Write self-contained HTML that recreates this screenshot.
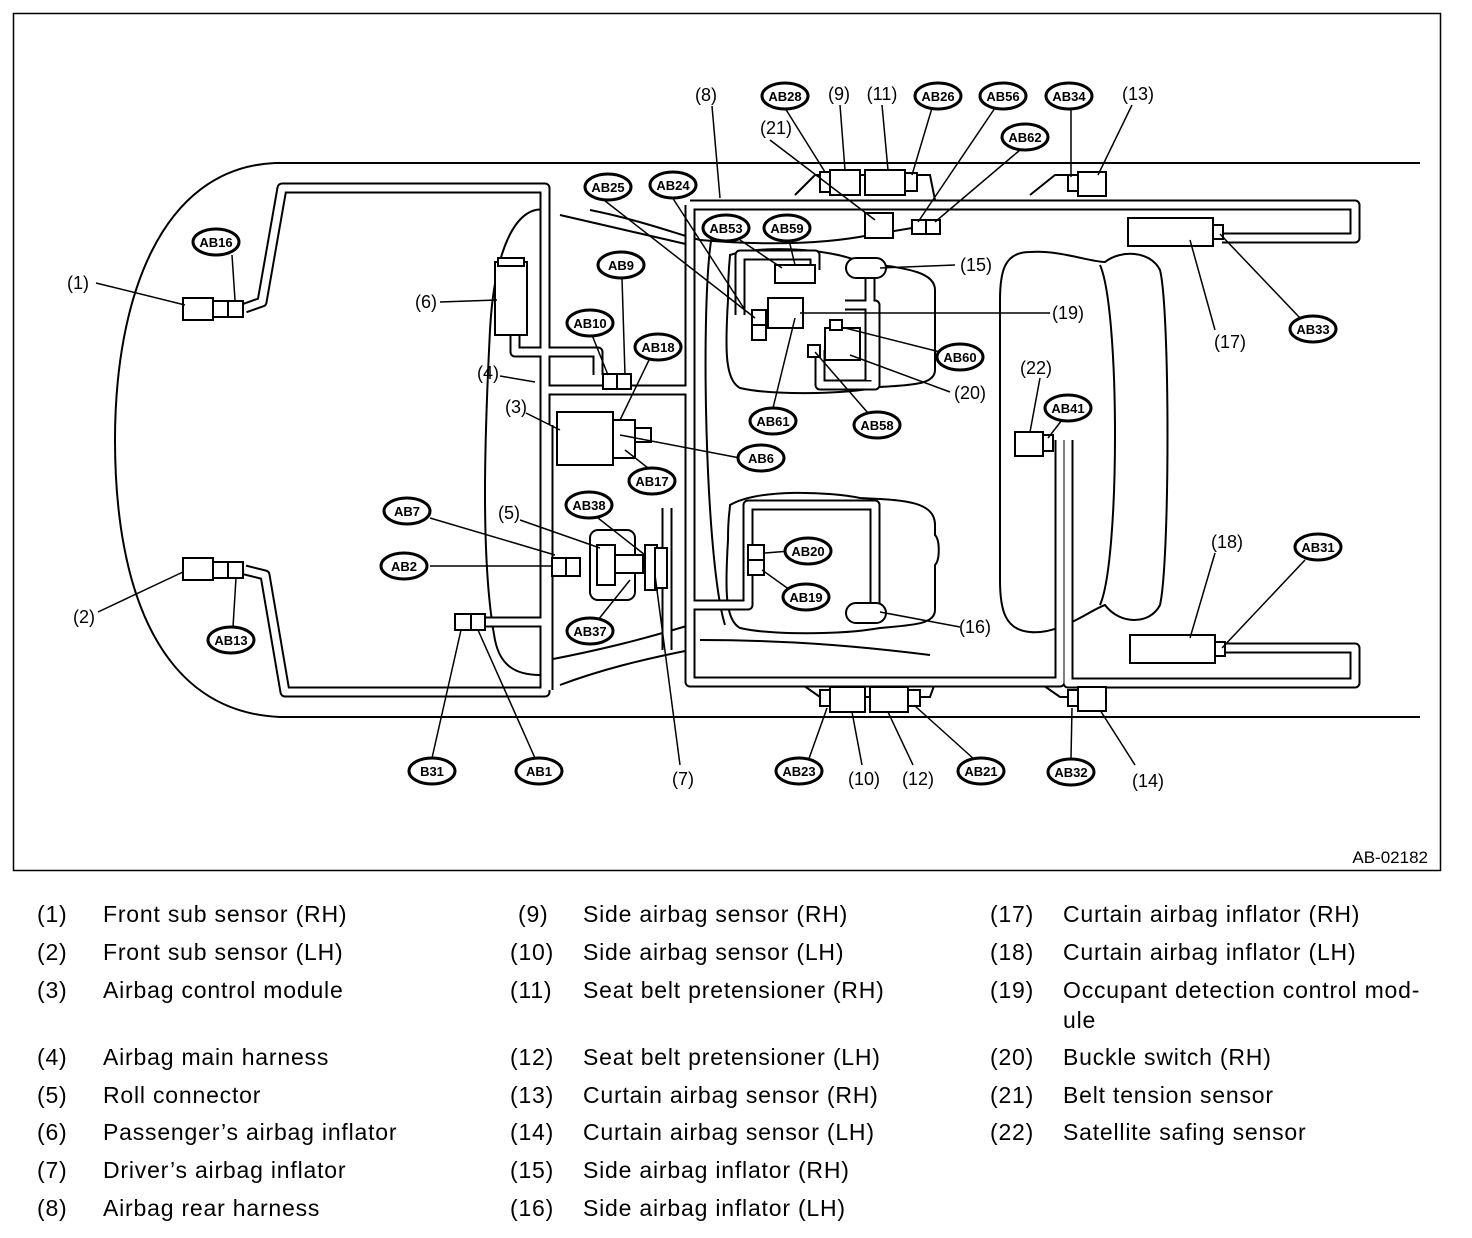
<!DOCTYPE html>
<html><head><meta charset="utf-8"><style>
html,body{margin:0;padding:0;background:#fff;}
body{width:1472px;height:1238px;position:relative;font-family:"Liberation Sans",Arial,sans-serif;}
svg{position:absolute;left:0;top:0;}
.lg{position:absolute;font-size:23px;letter-spacing:0.8px;color:#000;white-space:nowrap;}
</style></head><body>
<svg width="1472" height="1238" viewBox="0 0 1472 1238" font-family="Liberation Sans, Arial, sans-serif">
<rect x="13.5" y="13.5" width="1427" height="857" fill="none" stroke="#000" stroke-width="1.5"/>
<text x="1428" y="863" font-size="17" text-anchor="end">AB-02182</text>
<g fill="none" stroke="#000" stroke-width="2">
<path d="M1420,163 L275,163 C160,168 115,300 115,440 C115,590 160,712 280,717 L1420,717"/>
<path d="M795,195 L815,175 L930,175 L935,200"/>
<path d="M1030,195 L1055,175 L1070,175"/>
<path d="M800,683 L820,697 L930,697 L935,683"/>
<path d="M1040,683 L1060,697 L1075,697"/>
<path d="M545,210 C520,205 495,240 490,330 C485,430 480,560 495,640 C500,665 515,675 540,675"/>
<path d="M560,215 L690,245"/>
<path d="M590,210 C640,220 680,235 700,240"/>
<path d="M700,240 C760,245 820,245 870,235 L930,225"/>
<path d="M560,685 C600,670 640,660 690,650"/>
<path d="M548,660 C600,650 640,640 690,625"/>
<path d="M700,640 C780,640 850,645 930,655"/>
<path d="M730,255 C760,245 830,248 860,262 C900,268 935,270 935,290 L935,370 C935,385 910,385 880,387 C840,395 770,395 740,388 C725,380 725,350 728,300 C728,270 730,258 730,255Z"/>
<path d="M730,505 C760,488 830,492 860,498 C900,500 935,500 935,525 L935,535 C940,540 940,560 935,565 L935,610 C935,625 910,625 880,628 C840,635 770,635 740,628 C725,620 725,590 728,540 C728,515 730,510 730,505Z"/>
<path d="M712,235 C700,300 705,560 725,625"/>
<path d="M1030,252 C1060,250 1090,262 1105,262 C1120,250 1150,250 1160,270 C1170,310 1170,560 1160,605 C1150,625 1120,625 1105,605 C1090,610 1060,635 1030,632 C1005,630 1000,610 1000,580 L1000,300 C1000,270 1005,252 1030,252Z"/>
<path d="M1100,265 C1120,310 1120,560 1100,605"/>
</g>
<g fill="none" stroke-linejoin="round">
<g stroke="#000" stroke-width="11">
<path d="M245,308 L262,302 L282,188 L545,188 L545,692 L285,692 L265,575 L245,570"/>
<path d="M515,335 L515,352 L598,352 L598,375"/>
<path d="M545,380 L545,390 L690,390"/>
<path d="M690,205 L690,682 L1060,682 L1060,440"/>
<path d="M690,205 L1355,205 L1355,238 L1222,238"/>
<path d="M1068,440 L1068,683 L1355,683 L1355,648 L1225,648"/>
<path d="M548,425 L548,690"/>
<path d="M690,605 L748,605 L748,505 L875,505 L875,605"/>
<path d="M740,315 L740,255 L815,255 L815,270"/>
<path d="M845,305 L875,305 L875,385 L820,385 L820,350"/>
<path d="M870,270 L870,380"/>
<path d="M485,622 L545,622"/>
<path d="M667,508 L667,650"/>
</g>
<g stroke="#fff" stroke-width="7">
<path d="M245,308 L262,302 L282,188 L545,188 L545,692 L285,692 L265,575 L245,570"/>
<path d="M515,335 L515,352 L598,352 L598,375"/>
<path d="M545,380 L545,390 L690,390"/>
<path d="M690,205 L690,682 L1060,682 L1060,440"/>
<path d="M690,205 L1355,205 L1355,238 L1222,238"/>
<path d="M1068,440 L1068,683 L1355,683 L1355,648 L1225,648"/>
<path d="M548,425 L548,690"/>
<path d="M690,605 L748,605 L748,505 L875,505 L875,605"/>
<path d="M740,315 L740,255 L815,255 L815,270"/>
<path d="M845,305 L875,305 L875,385 L820,385 L820,350"/>
<path d="M870,270 L870,380"/>
<path d="M485,622 L545,622"/>
<path d="M667,508 L667,650"/>
</g>
</g>
<g fill="#fff" stroke="#000" stroke-width="2">
<rect x="183" y="298" width="30" height="22"/><rect x="213" y="301" width="15" height="16"/><rect x="228" y="301" width="15" height="16"/>
<rect x="183" y="558" width="30" height="22"/><rect x="213" y="562" width="15" height="16"/><rect x="228" y="562" width="15" height="16"/>
<rect x="495" y="262" width="32" height="73"/><rect x="498" y="258" width="26" height="8"/>
<rect x="603" y="374" width="14" height="15"/><rect x="617" y="374" width="14" height="15"/>
<rect x="557" y="412" width="56" height="53"/>
<rect x="613" y="420" width="22" height="38"/><rect x="635" y="428" width="16" height="14"/>
<rect x="552" y="558" width="14" height="18"/><rect x="566" y="558" width="14" height="18"/>
<rect x="590" y="530" width="45" height="70" rx="8"/>
<rect x="597" y="545" width="18" height="40"/><rect x="615" y="555" width="28" height="18"/>
<rect x="645" y="545" width="12" height="45"/><rect x="655" y="548" width="12" height="40"/>
<rect x="455" y="614" width="16" height="16"/><rect x="471" y="614" width="14" height="16"/>
<rect x="768" y="298" width="35" height="30"/><rect x="752" y="310" width="14" height="15"/><rect x="752" y="325" width="14" height="15"/>
<rect x="775" y="265" width="40" height="18"/>
<rect x="825" y="328" width="35" height="32"/><rect x="808" y="345" width="12" height="12"/><rect x="830" y="320" width="12" height="10"/>
<rect x="846" y="258" width="40" height="20" rx="10"/>
<rect x="846" y="603" width="40" height="20" rx="10"/>
<rect x="748" y="545" width="16" height="15"/><rect x="748" y="560" width="16" height="15"/>
<rect x="820" y="172" width="10" height="20"/><rect x="830" y="170" width="30" height="25"/><rect x="865" y="170" width="40" height="25"/><rect x="905" y="173" width="12" height="18"/>
<rect x="865" y="213" width="28" height="25"/><rect x="912" y="220" width="14" height="14"/><rect x="926" y="220" width="14" height="14"/>
<rect x="1068" y="175" width="10" height="16"/><rect x="1078" y="172" width="28" height="24"/>
<rect x="1128" y="218" width="85" height="28"/><rect x="1213" y="225" width="10" height="14"/>
<rect x="1130" y="635" width="85" height="28"/><rect x="1215" y="642" width="10" height="14"/>
<rect x="1015" y="432" width="28" height="24"/><rect x="1043" y="435" width="10" height="16"/>
<rect x="820" y="690" width="10" height="16"/><rect x="830" y="687" width="35" height="25"/><rect x="870" y="687" width="38" height="25"/><rect x="908" y="690" width="12" height="16"/>
<rect x="1068" y="690" width="10" height="16"/><rect x="1078" y="687" width="28" height="24"/>
</g>
<g stroke="#000" stroke-width="1.5" fill="none">
<path d="M96,283 L185,305"/><path d="M98,612 L183,572"/>
<path d="M232,255 L235,300"/><path d="M233,627 L236,578"/>
<path d="M600,197 L755,318"/><path d="M672,197 L745,310"/>
<path d="M740,240 L782,268"/><path d="M789,240 L795,265"/>
<path d="M622,278 L625,375"/><path d="M592,335 L608,375"/>
<path d="M650,358 L620,420"/><path d="M740,458 L620,435"/>
<path d="M648,468 L625,450"/><path d="M526,413 L560,430"/>
<path d="M500,376 L535,382"/><path d="M440,302 L497,300"/>
<path d="M430,518 L555,555"/><path d="M430,566 L552,566"/>
<path d="M520,520 L600,548"/><path d="M598,518 L645,555"/>
<path d="M598,620 L630,580"/><path d="M680,765 L655,575"/>
<path d="M432,758 L461,630"/><path d="M535,758 L478,630"/>
<path d="M806,767 L827,708"/><path d="M862,765 L852,712"/><path d="M913,765 L888,712"/><path d="M975,760 L915,706"/>
<path d="M1071,758 L1072,708"/><path d="M1135,765 L1100,710"/>
<path d="M712,106 L720,198"/><path d="M785,108 L825,172"/><path d="M840,105 L845,170"/><path d="M882,105 L888,170"/>
<path d="M932,108 L912,175"/><path d="M995,108 L918,222"/><path d="M1020,150 L935,222"/>
<path d="M1071,108 L1071,177"/><path d="M1132,105 L1098,175"/>
<path d="M770,140 L875,220"/>
<path d="M955,265 L880,268"/><path d="M1050,313 L800,313"/>
<path d="M940,352 L845,328"/><path d="M950,392 L850,355"/>
<path d="M773,408 L795,318"/><path d="M868,413 L815,352"/>
<path d="M1040,378 L1030,432"/><path d="M1062,420 L1048,438"/>
<path d="M1215,330 L1190,240"/><path d="M1300,318 L1220,234"/>
<path d="M1215,553 L1190,638"/><path d="M1305,560 L1222,648"/>
<path d="M960,627 L880,612"/>
<path d="M790,551 L765,553"/><path d="M790,590 L762,570"/>
</g>
<g font-size="13" font-weight="bold" text-anchor="middle">
<g fill="#fff" stroke="#000" stroke-width="3">
<ellipse cx="216" cy="242" rx="23" ry="13"/><ellipse cx="785" cy="96" rx="23" ry="13"/><ellipse cx="938" cy="96" rx="23" ry="13"/>
<ellipse cx="1003" cy="96" rx="23" ry="13"/><ellipse cx="1069" cy="96" rx="23" ry="13"/><ellipse cx="1025" cy="137" rx="23" ry="13"/>
<ellipse cx="608" cy="187" rx="23" ry="13"/><ellipse cx="673" cy="185" rx="23" ry="13"/><ellipse cx="726" cy="228" rx="23" ry="13"/>
<ellipse cx="787" cy="228" rx="23" ry="13"/><ellipse cx="621" cy="265" rx="23" ry="13"/><ellipse cx="590" cy="323" rx="23" ry="13"/>
<ellipse cx="658" cy="347" rx="23" ry="13"/><ellipse cx="960" cy="357" rx="23" ry="13"/><ellipse cx="1313" cy="329" rx="23" ry="13"/>
<ellipse cx="773" cy="421" rx="23" ry="13"/><ellipse cx="877" cy="425" rx="23" ry="13"/><ellipse cx="1068" cy="408" rx="23" ry="13"/>
<ellipse cx="761" cy="458" rx="23" ry="13"/><ellipse cx="652" cy="481" rx="23" ry="13"/><ellipse cx="407" cy="511" rx="23" ry="13"/>
<ellipse cx="589" cy="505" rx="23" ry="13"/><ellipse cx="808" cy="551" rx="23" ry="13"/><ellipse cx="404" cy="566" rx="23" ry="13"/>
<ellipse cx="806" cy="597" rx="23" ry="13"/><ellipse cx="1318" cy="547" rx="23" ry="13"/><ellipse cx="590" cy="631" rx="23" ry="13"/>
<ellipse cx="231" cy="640" rx="23" ry="13"/><ellipse cx="432" cy="771" rx="23" ry="13"/><ellipse cx="539" cy="771" rx="23" ry="13"/>
<ellipse cx="799" cy="771" rx="23" ry="13"/><ellipse cx="981" cy="771" rx="23" ry="13"/><ellipse cx="1071" cy="772" rx="23" ry="13"/>
</g>
<text x="216" y="247">AB16</text><text x="785" y="101">AB28</text><text x="938" y="101">AB26</text>
<text x="1003" y="101">AB56</text><text x="1069" y="101">AB34</text><text x="1025" y="142">AB62</text>
<text x="608" y="192">AB25</text><text x="673" y="190">AB24</text><text x="726" y="233">AB53</text>
<text x="787" y="233">AB59</text><text x="621" y="270">AB9</text><text x="590" y="328">AB10</text>
<text x="658" y="352">AB18</text><text x="960" y="362">AB60</text><text x="1313" y="334">AB33</text>
<text x="773" y="426">AB61</text><text x="877" y="430">AB58</text><text x="1068" y="413">AB41</text>
<text x="761" y="463">AB6</text><text x="652" y="486">AB17</text><text x="407" y="516">AB7</text>
<text x="589" y="510">AB38</text><text x="808" y="556">AB20</text><text x="404" y="571">AB2</text>
<text x="806" y="602">AB19</text><text x="1318" y="552">AB31</text><text x="590" y="636">AB37</text>
<text x="231" y="645">AB13</text><text x="432" y="776">B31</text><text x="539" y="776">AB1</text>
<text x="799" y="776">AB23</text><text x="981" y="776">AB21</text><text x="1071" y="777">AB32</text>
</g>
<g font-size="18" text-anchor="middle">
<text x="78" y="289">(1)</text><text x="84" y="623">(2)</text><text x="516" y="413">(3)</text><text x="488" y="379">(4)</text>
<text x="509" y="519">(5)</text><text x="426" y="308">(6)</text><text x="683" y="785">(7)</text><text x="706" y="101">(8)</text>
<text x="839" y="100">(9)</text><text x="882" y="100">(11)</text><text x="1138" y="100">(13)</text><text x="776" y="134">(21)</text>
<text x="976" y="271">(15)</text><text x="1068" y="319">(19)</text><text x="970" y="399">(20)</text><text x="1036" y="374">(22)</text>
<text x="1230" y="348">(17)</text><text x="1227" y="548">(18)</text><text x="975" y="633">(16)</text><text x="864" y="785">(10)</text>
<text x="918" y="785">(12)</text><text x="1148" y="787">(14)</text>
</g>
</svg>
<div class="lg" style="left:37px;top:901px">(1)</div><div class="lg" style="left:103px;top:901px">Front sub sensor (RH)</div>
<div class="lg" style="left:37px;top:939px">(2)</div><div class="lg" style="left:103px;top:939px">Front sub sensor (LH)</div>
<div class="lg" style="left:37px;top:977px">(3)</div><div class="lg" style="left:103px;top:977px">Airbag control module</div>
<div class="lg" style="left:37px;top:1044px">(4)</div><div class="lg" style="left:103px;top:1044px">Airbag main harness</div>
<div class="lg" style="left:37px;top:1082px">(5)</div><div class="lg" style="left:103px;top:1082px">Roll connector</div>
<div class="lg" style="left:37px;top:1119px">(6)</div><div class="lg" style="left:103px;top:1119px">Passenger’s airbag inflator</div>
<div class="lg" style="left:37px;top:1157px">(7)</div><div class="lg" style="left:103px;top:1157px">Driver’s airbag inflator</div>
<div class="lg" style="left:37px;top:1195px">(8)</div><div class="lg" style="left:103px;top:1195px">Airbag rear harness</div>
<div class="lg" style="left:518px;top:901px">(9)</div><div class="lg" style="left:583px;top:901px">Side airbag sensor (RH)</div>
<div class="lg" style="left:510px;top:939px">(10)</div><div class="lg" style="left:583px;top:939px">Side airbag sensor (LH)</div>
<div class="lg" style="left:510px;top:977px">(11)</div><div class="lg" style="left:583px;top:977px">Seat belt pretensioner (RH)</div>
<div class="lg" style="left:510px;top:1044px">(12)</div><div class="lg" style="left:583px;top:1044px">Seat belt pretensioner (LH)</div>
<div class="lg" style="left:510px;top:1082px">(13)</div><div class="lg" style="left:583px;top:1082px">Curtain airbag sensor (RH)</div>
<div class="lg" style="left:510px;top:1119px">(14)</div><div class="lg" style="left:583px;top:1119px">Curtain airbag sensor (LH)</div>
<div class="lg" style="left:510px;top:1157px">(15)</div><div class="lg" style="left:583px;top:1157px">Side airbag inflator (RH)</div>
<div class="lg" style="left:510px;top:1195px">(16)</div><div class="lg" style="left:583px;top:1195px">Side airbag inflator (LH)</div>
<div class="lg" style="left:990px;top:901px">(17)</div><div class="lg" style="left:1063px;top:901px">Curtain airbag inflator (RH)</div>
<div class="lg" style="left:990px;top:939px">(18)</div><div class="lg" style="left:1063px;top:939px">Curtain airbag inflator (LH)</div>
<div class="lg" style="left:990px;top:977px">(19)</div><div class="lg" style="left:1063px;top:977px">Occupant detection control mod-</div>
<div class="lg" style="left:1063px;top:1007px">ule</div>
<div class="lg" style="left:990px;top:1044px">(20)</div><div class="lg" style="left:1063px;top:1044px">Buckle switch (RH)</div>
<div class="lg" style="left:990px;top:1082px">(21)</div><div class="lg" style="left:1063px;top:1082px">Belt tension sensor</div>
<div class="lg" style="left:990px;top:1119px">(22)</div><div class="lg" style="left:1063px;top:1119px">Satellite safing sensor</div>
</body></html>
